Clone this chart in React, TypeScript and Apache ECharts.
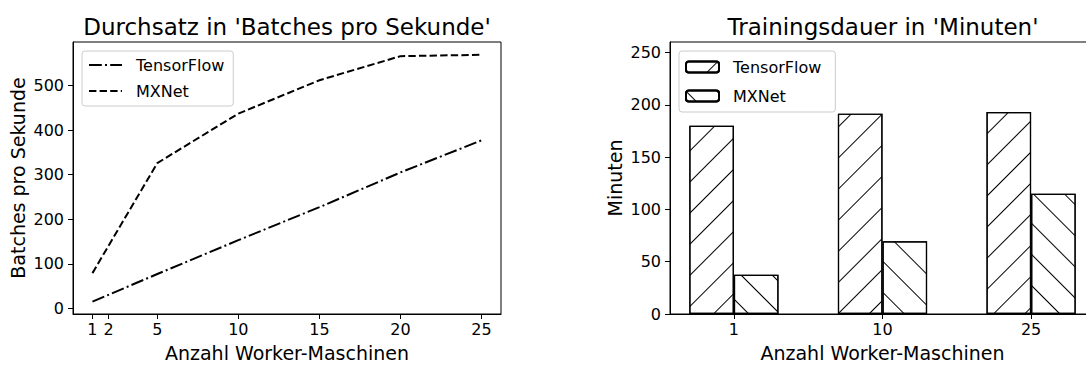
import React, { useEffect, useRef } from "react";
import * as echarts from "echarts";

// Left chart: throughput (batches per second)
const workers = [1, 5, 10, 15, 20, 25];
const tensorflowThroughput = [15, 77, 153, 227, 305, 377];
const mxnetThroughput = [79, 326, 437, 512, 566, 569];
const xTicksLeft = [1, 2, 5, 10, 15, 20, 25];
const yTicksLeft = [0, 100, 200, 300, 400, 500];

// Right chart: training duration (minutes)
const barCategories = ["1", "10", "25"];
const tensorflowMinutes = [180, 191.5, 193];
const mxnetMinutes = [37.5, 69.5, 115];
const yTicksRight = [0, 50, 100, 150, 200, 250];

const FONT = "DejaVu Sans";
const BLACK = "#000000";
const DASHDOT = [12.8, 3.2, 2, 3.2];
const DASHED = [7.4, 3.2];

export default function App() {
  const ref = useRef<HTMLDivElement>(null);

  useEffect(() => {
    if (!ref.current) return;
    const chart = echarts.init(ref.current, undefined, { renderer: "svg" });

    const axisCommon = {
      axisLine: { show: true, onZero: false, lineStyle: { color: BLACK, width: 1 } },
      splitLine: { show: false },
      nameTextStyle: { fontFamily: FONT, fontSize: 19, color: BLACK },
    };

    const hatch = (rotation: number) => ({
      symbol: "rect",
      symbolSize: 1,
      symbolKeepAspect: false,
      color: BLACK,
      backgroundColor: "#ffffff",
      dashArrayX: [1, 0],
      dashArrayY: [1, 20.5],
      rotation,
    });

    const tfData = tensorflowMinutes.map((v, i) => [i, v]);
    const mxData = mxnetMinutes.map((v, i) => [i, v]);

    const titleStyle = { fontFamily: FONT, fontSize: 23, fontWeight: "normal", color: BLACK };
    const legendBox = {
      orient: "vertical",
      borderColor: "#cccccc",
      borderWidth: 1,
      borderRadius: 3,
      backgroundColor: "rgba(255,255,255,0.8)",
      textStyle: { fontFamily: FONT, fontSize: 16, color: BLACK, padding: [0, 0, 0, 9] },
      selectedMode: false,
    };

    const option: any = {
      animation: false,
      backgroundColor: "#ffffff",
      textStyle: { fontFamily: FONT },
      title: [
        {
          text: "Durchsatz in 'Batches pro Sekunde'",
          left: 287,
          top: 15,
          textAlign: "center",
          padding: 0,
          textStyle: titleStyle,
        },
        {
          text: "Trainingsdauer in 'Minuten'",
          left: 883,
          top: 15,
          textAlign: "center",
          padding: 0,
          textStyle: titleStyle,
        },
      ],
      legend: [
        {
          ...legendBox,
          data: [
            { name: "TensorFlow", lineStyle: { type: DASHDOT, width: 2, color: BLACK, cap: "butt" } },
            { name: "MXNet", lineStyle: { type: DASHED, width: 2, color: BLACK, cap: "butt" } },
          ],
          itemStyle: { color: "transparent", borderWidth: 0, opacity: 0 },
          left: 82,
          top: 51,
          itemWidth: 33,
          itemHeight: 14,
          itemGap: 10,
          padding: [6, 9, 7, 6],
        },
        {
          ...legendBox,
          data: [{ name: "TensorFlow " }, { name: "MXNet " }],
          left: 679,
          top: 51,
          itemWidth: 33,
          itemHeight: 11,
          itemGap: 13,
          padding: [8, 9, 8, 6],
        },
      ],
      grid: [
        { left: 73, top: 42, width: 428, height: 278, show: true, borderColor: BLACK, borderWidth: 1 },
        { left: 670, top: 42, width: 425, height: 278, show: true, borderColor: BLACK, borderWidth: 1 },
      ],
      xAxis: [
        {
          ...axisCommon,
          type: "value",
          gridIndex: 0,
          min: -0.2,
          max: 26.2,
          name: "Anzahl Worker-Maschinen",
          nameLocation: "middle",
          nameGap: 29,
          axisTick: { show: true, length: 5, customValues: xTicksLeft, lineStyle: { color: BLACK } },
          axisLabel: { customValues: xTicksLeft, fontFamily: FONT, fontSize: 16, color: BLACK, margin: 7 },
        },
        {
          ...axisCommon,
          type: "value",
          gridIndex: 1,
          min: -0.43,
          max: 2.43,
          name: "Anzahl Worker-Maschinen",
          nameLocation: "middle",
          nameGap: 29,
          axisTick: { show: true, length: 5, customValues: [0, 1, 2], lineStyle: { color: BLACK } },
          axisLabel: {
            customValues: [0, 1, 2],
            formatter: (v: number) => barCategories[Math.round(v)] ?? "",
            fontFamily: FONT,
            fontSize: 16,
            color: BLACK,
            margin: 7,
          },
        },
      ],
      yAxis: [
        {
          ...axisCommon,
          type: "value",
          gridIndex: 0,
          min: -12.75,
          max: 597.75,
          name: "Batches pro Sekunde",
          nameLocation: "middle",
          nameGap: 46,
          axisTick: { show: true, length: 5, customValues: yTicksLeft, lineStyle: { color: BLACK } },
          axisLabel: { customValues: yTicksLeft, fontFamily: FONT, fontSize: 16, color: BLACK, margin: 9 },
        },
        {
          ...axisCommon,
          type: "value",
          gridIndex: 1,
          min: 0,
          max: 260,
          name: "Minuten",
          nameLocation: "middle",
          nameGap: 46,
          axisTick: { show: true, length: 5, customValues: yTicksRight, lineStyle: { color: BLACK } },
          axisLabel: { customValues: yTicksRight, fontFamily: FONT, fontSize: 16, color: BLACK, margin: 9 },
        },
      ],
      series: [
        {
          name: "TensorFlow",
          type: "line",
          xAxisIndex: 0,
          yAxisIndex: 0,
          data: workers.map((w, i) => [w, tensorflowThroughput[i]]),
          showSymbol: false,
          symbol: "none",
          color: BLACK,
          lineStyle: { color: BLACK, width: 2, type: DASHDOT, cap: "butt" },
        },
        {
          name: "MXNet",
          type: "line",
          xAxisIndex: 0,
          yAxisIndex: 0,
          data: workers.map((w, i) => [w, mxnetThroughput[i]]),
          showSymbol: false,
          symbol: "none",
          color: BLACK,
          lineStyle: { color: BLACK, width: 2, type: DASHED, cap: "butt" },
        },
        {
          name: "TensorFlow ",
          type: "bar",
          xAxisIndex: 1,
          yAxisIndex: 1,
          data: tfData,
          barWidth: 44.6,
          barGap: "0%",
          itemStyle: { color: "#ffffff", borderColor: BLACK, borderWidth: 1.2, decal: hatch(-Math.PI / 4) },
        },
        {
          name: "MXNet ",
          type: "bar",
          xAxisIndex: 1,
          yAxisIndex: 1,
          data: mxData,
          barWidth: 44.6,
          barGap: "0%",
          itemStyle: { color: "#ffffff", borderColor: BLACK, borderWidth: 1.2, decal: hatch(Math.PI / 4) },
        },
      ],
    };

    chart.setOption(option);
    return () => chart.dispose();
  }, []);

  return (
    <div
      style={{
        position: "absolute",
        left: 0,
        top: 0,
        width: 1086,
        height: 367,
        overflow: "hidden",
        background: "#fff",
      }}
    >
      <div ref={ref} style={{ width: 1120, height: 367 }} />
    </div>
  );
}
